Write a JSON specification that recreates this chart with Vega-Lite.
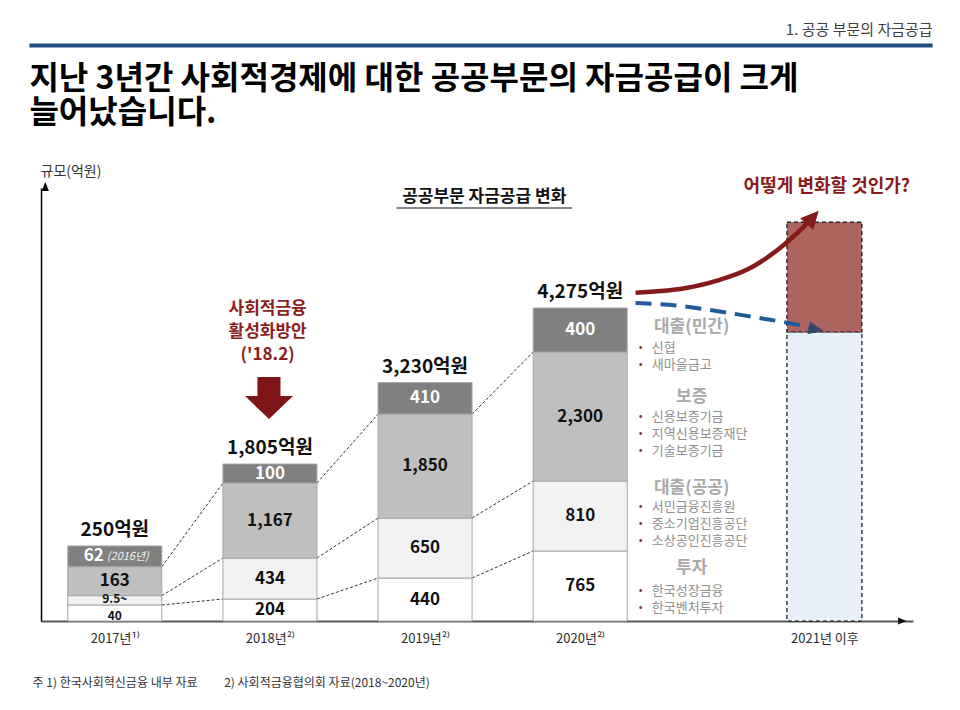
{
  "$schema": "https://vega.github.io/schema/vega-lite/v6.json",
  "width": 872,
  "height": 433,
  "autosize": {"type": "none"},
  "padding": {"left": 41, "top": 188, "right": 47, "bottom": 89},
  "background": "white",
  "config": {
    "view": {"stroke": null},
    "font": "Noto Sans CJK KR",
    "locale": {"number": {"decimal": ".", "thousands": ",", "grouping": [3], "currency": ["", "억원"]}}
  },
  "datasets": {
    "segments": [
      {"year": 2017, "seg": "투자", "rank": 1, "drawn": 219, "label": "40"},
      {"year": 2017, "seg": "대출(공공)", "rank": 2, "drawn": 127, "label": "9.5~"},
      {"year": 2017, "seg": "보증", "rank": 3, "drawn": 396, "label": "163"},
      {"year": 2017, "seg": "대출(민간)", "rank": 4, "drawn": 283, "label": "62", "note": "(2016년)"},
      {"year": 2018, "seg": "투자", "rank": 1, "drawn": 300, "label": "204"},
      {"year": 2018, "seg": "대출(공공)", "rank": 2, "drawn": 560, "label": "434"},
      {"year": 2018, "seg": "보증", "rank": 3, "drawn": 1024, "label": "1,167"},
      {"year": 2018, "seg": "대출(민간)", "rank": 4, "drawn": 260, "label": "100"},
      {"year": 2019, "seg": "투자", "rank": 1, "drawn": 587, "label": "440"},
      {"year": 2019, "seg": "대출(공공)", "rank": 2, "drawn": 819, "label": "650"},
      {"year": 2019, "seg": "보증", "rank": 3, "drawn": 1420, "label": "1,850"},
      {"year": 2019, "seg": "대출(민간)", "rank": 4, "drawn": 430, "label": "410"},
      {"year": 2020, "seg": "투자", "rank": 1, "drawn": 956, "label": "765"},
      {"year": 2020, "seg": "대출(공공)", "rank": 2, "drawn": 956, "label": "810"},
      {"year": 2020, "seg": "보증", "rank": 3, "drawn": 1762, "label": "2,300"},
      {"year": 2020, "seg": "대출(민간)", "rank": 4, "drawn": 601, "label": "400"}
    ],
    "totals": [
      {"year": 2017, "total": 250},
      {"year": 2018, "total": 1805},
      {"year": 2019, "total": 3230},
      {"year": 2020, "total": 4275}
    ],
    "outlook": [
      {"year": 2021, "seg": "전망(기존)", "rank": 1, "drawn": 3947},
      {"year": 2021, "seg": "전망(확대)", "rank": 2, "drawn": 1502}
    ],
    "scenarios": [
      {"scenario": "확대", "year": 2020.2266, "value": 4484},
      {"scenario": "확대", "year": 2020.4272, "value": 4544},
      {"scenario": "확대", "year": 2020.5607, "value": 4648},
      {"scenario": "확대", "year": 2020.6944, "value": 4817},
      {"scenario": "확대", "year": 2020.8283, "value": 5122},
      {"scenario": "확대", "year": 2020.8949, "value": 5317},
      {"scenario": "확대", "year": 2020.9486, "value": 5500},
      {"scenario": "축소", "year": 2020.2266, "value": 4343},
      {"scenario": "축소", "year": 2020.4123, "value": 4302},
      {"scenario": "축소", "year": 2020.5326, "value": 4248},
      {"scenario": "축소", "year": 2020.7332, "value": 4138},
      {"scenario": "축소", "year": 2020.8535, "value": 4070},
      {"scenario": "축소", "year": 2020.9619, "value": 3988}
    ],
    "channels": [
      {"seg": "대출(민간)", "items": ["신협", "새마을금고"]},
      {"seg": "보증", "items": ["신용보증기금", "지역신용보증재단", "기술보증기금"]},
      {"seg": "대출(공공)", "items": ["서민금융진흥원", "중소기업진흥공단", "소상공인진흥공단"]},
      {"seg": "투자", "items": ["한국성장금융", "한국벤처투자"]}
    ]
  },
  "layer": [
    {
      "data": {"name": "segments"},
      "transform": [
        {"stack": "drawn", "groupby": ["year"], "sort": [{"field": "rank", "order": "ascending"}], "as": ["y0", "y1"]},
        {"filter": "datum.rank <= 3"},
        {"window": [{"op": "lead", "field": "y1", "as": "y1n"}, {"op": "lead", "field": "year", "as": "yearn"}], "groupby": ["seg"], "sort": [{"field": "year", "order": "ascending"}]},
        {"filter": "datum.yearn != null"}
      ],
      "mark": {"type": "rule", "strokeDash": [3, 2], "strokeWidth": 1, "color": "#333333", "xOffset": 47, "x2Offset": -47},
      "encoding": {
        "x": {"field": "year", "type": "quantitative"},
        "x2": {"field": "yearn"},
        "y": {"field": "y1", "type": "quantitative"},
        "y2": {"field": "y1n"}
      }
    },
    {
      "data": {"name": "segments"},
      "mark": {"type": "bar", "width": 94, "stroke": "#a6a6a6", "strokeWidth": 1},
      "encoding": {
        "x": {
          "field": "year", "type": "quantitative",
          "scale": {"domain": [2016.552, 2020, 2021.335], "range": [0, 539.2, 872], "nice": false, "zero": false},
          "axis": {
            "values": [2017, 2018, 2019, 2020, 2021],
            "labelExpr": "datum.value == 2021 ? '2021년 이후' : datum.value + '년' + (datum.value == 2017 ? '¹⁾' : '²⁾')",
            "ticks": false, "tickSize": 0, "grid": false,
            "domainColor": "#595959", "domainWidth": 2,
            "labelFontSize": 13, "labelColor": "#2b2b2b", "labelPadding": 17, "labelBaseline": "middle",
            "labelFlush": false, "labelOverlap": false, "labelBound": false,
            "title": "주 1) 한국사회혁신금융 내부 자료\u2003\u2003 2) 사회적금융협의회 자료(2018~2020년)",
            "titleX": -9, "titleY": 61, "titleAlign": "left", "titleBaseline": "middle",
            "titleFontSize": 12, "titleFontWeight": "normal", "titleColor": "#333333"
          }
        },
        "y": {
          "field": "drawn", "type": "quantitative", "stack": "zero",
          "scale": {"domain": [0, 5914], "nice": false, "zero": false},
          "axis": {
            "domain": true, "domainColor": "#000000", "domainWidth": 1.5,
            "ticks": false, "labels": false, "grid": false,
            "title": "규모(억원)", "titleAngle": 0, "titleAlign": "left", "titleBaseline": "middle",
            "titleX": -1, "titleY": -17, "titleFontSize": 14, "titleFontWeight": "normal", "titleColor": "#333333"
          }
        },
        "color": {
          "field": "seg", "type": "nominal",
          "scale": {
            "domain": ["투자", "대출(공공)", "보증", "대출(민간)", "전망(기존)", "전망(확대)"],
            "range": ["#ffffff", "#f2f2f2", "#bfbfbf", "#808080", "#e9f0f9", "#ad635e"]
          },
          "legend": null
        },
        "order": {"field": "rank", "type": "quantitative", "sort": "ascending"}
      }
    },
    {
      "data": {"name": "outlook"},
      "mark": {"type": "bar", "width": 75, "stroke": "#111111", "strokeWidth": 1.2, "strokeDash": [4, 3]},
      "encoding": {
        "x": {"field": "year", "type": "quantitative"},
        "y": {"field": "drawn", "type": "quantitative", "stack": "zero"},
        "color": {"field": "seg", "type": "nominal", "legend": null},
        "order": {"field": "rank", "type": "quantitative", "sort": "ascending"}
      }
    },
    {
      "data": {"name": "segments"},
      "transform": [
        {"stack": "drawn", "groupby": ["year"], "sort": [{"field": "rank", "order": "ascending"}], "as": ["y0", "y1"]},
        {"fold": ["y0", "y1"], "as": ["edge", "pos"]},
        {"aggregate": [{"op": "mean", "field": "pos", "as": "mid"}], "groupby": ["year", "seg", "label", "note", "rank"]}
      ],
      "layer": [
        {
          "transform": [{"filter": "!datum.note && !(datum.year === 2017 && datum.rank <= 2)"}],
          "mark": {"type": "text", "fontSize": 17, "fontWeight": "bold", "align": "center", "baseline": "middle"},
          "encoding": {
            "x": {"field": "year", "type": "quantitative"},
            "y": {"field": "mid", "type": "quantitative"},
            "text": {"field": "label"},
            "color": {"condition": {"test": "datum.seg === '대출(민간)'", "value": "#ffffff"}, "value": "#111111"}
          }
        },
        {
          "transform": [{"filter": "datum.year === 2017 && datum.rank === 2"}],
          "mark": {"type": "text", "fontSize": 12, "fontWeight": "bold", "align": "center", "baseline": "middle", "dy": -1, "color": "#111111"},
          "encoding": {
            "x": {"field": "year", "type": "quantitative"},
            "y": {"field": "mid", "type": "quantitative"},
            "text": {"field": "label"}
          }
        },
        {
          "transform": [{"filter": "datum.year === 2017 && datum.rank === 1"}],
          "mark": {"type": "text", "fontSize": 12, "fontWeight": "bold", "align": "center", "baseline": "middle", "dy": 3, "color": "#111111"},
          "encoding": {
            "x": {"field": "year", "type": "quantitative"},
            "y": {"field": "mid", "type": "quantitative"},
            "text": {"field": "label"}
          }
        },
        {
          "transform": [{"filter": "datum.note"}],
          "mark": {"type": "text", "fontSize": 17, "fontWeight": "bold", "align": "center", "baseline": "middle", "color": "#ffffff", "dx": -21},
          "encoding": {
            "x": {"field": "year", "type": "quantitative"},
            "y": {"field": "mid", "type": "quantitative"},
            "text": {"field": "label"}
          }
        },
        {
          "transform": [{"filter": "datum.note"}],
          "mark": {"type": "text", "fontSize": 11, "fontStyle": "italic", "align": "center", "baseline": "middle", "color": "#f0f0f0", "dx": 13, "dy": 1},
          "encoding": {
            "x": {"field": "year", "type": "quantitative"},
            "y": {"field": "mid", "type": "quantitative"},
            "text": {"field": "note"}
          }
        }
      ]
    },
    {
      "data": {"name": "segments"},
      "transform": [
        {"aggregate": [{"op": "sum", "field": "drawn", "as": "top"}], "groupby": ["year"]},
        {"lookup": "year", "from": {"data": {"name": "totals"}, "key": "year", "fields": ["total"]}}
      ],
      "mark": {"type": "text", "fontSize": 19, "fontWeight": "bold", "align": "center", "baseline": "middle", "dy": -16, "color": "#111111"},
      "encoding": {
        "x": {"field": "year", "type": "quantitative"},
        "y": {"field": "top", "type": "quantitative"},
        "text": {"field": "total", "type": "quantitative", "format": "$,"}
      }
    },
    {
      "data": {"name": "scenarios"},
      "transform": [{"filter": "datum.scenario === '확대'"}],
      "mark": {"type": "line", "interpolate": "monotone", "strokeWidth": 4.5, "color": "#851a1b"},
      "encoding": {
        "x": {"field": "year", "type": "quantitative"},
        "y": {"field": "value", "type": "quantitative"}
      }
    },
    {
      "data": {"name": "scenarios"},
      "transform": [
        {"filter": "datum.scenario === '확대'"},
        {"window": [{"op": "row_number", "as": "rn"}], "sort": [{"field": "year", "order": "descending"}]},
        {"filter": "datum.rn === 1"}
      ],
      "mark": {"type": "point", "shape": "M0,-1L0.85,0.75L-0.85,0.75Z", "filled": true, "size": 420, "angle": 42, "color": "#851a1b", "opacity": 1},
      "encoding": {
        "x": {"field": "year", "type": "quantitative"},
        "y": {"field": "value", "type": "quantitative"}
      }
    },
    {
      "data": {"name": "scenarios"},
      "transform": [{"filter": "datum.scenario === '축소'"}],
      "mark": {"type": "line", "interpolate": "monotone", "strokeWidth": 4, "strokeDash": [16, 9], "color": "#1f5c99"},
      "encoding": {
        "x": {"field": "year", "type": "quantitative"},
        "y": {"field": "value", "type": "quantitative"}
      }
    },
    {
      "data": {"name": "scenarios"},
      "transform": [
        {"filter": "datum.scenario === '축소'"},
        {"window": [{"op": "row_number", "as": "rn"}], "sort": [{"field": "year", "order": "descending"}]},
        {"filter": "datum.rn === 1"}
      ],
      "mark": {"type": "point", "shape": "M0,-1L0.75,0.75L-0.75,0.75Z", "filled": true, "size": 300, "angle": 101, "color": "#2e3f6a", "opacity": 0.85},
      "encoding": {
        "x": {"field": "year", "type": "quantitative"},
        "y": {"field": "value", "type": "quantitative"}
      }
    },
    {
      "data": {"name": "channels"},
      "transform": [{"filter": "datum.seg === '대출(민간)'"}],
      "mark": {"type": "text", "fontSize": 17, "fontWeight": "bold", "color": "#a9a9a9", "align": "center", "baseline": "middle"},
      "encoding": {"x": {"datum": 2020.4565}, "y": {"datum": 4009}, "text": {"field": "seg"}}
    },
    {
      "data": {"name": "channels"},
      "transform": [{"filter": "datum.seg === '대출(민간)'"}],
      "mark": {"type": "text", "fontSize": 13, "color": "#8f8f8f", "align": "left", "baseline": "middle", "lineHeight": 17.3},
      "encoding": {"x": {"datum": 2020.2932}, "y": {"datum": 3729}, "text": {"field": "items"}}
    },
    {
      "data": {"values": [{}]},
      "mark": {"type": "text", "text": ["•", "•"], "fontSize": 11, "color": "#7b3b3b", "align": "center", "baseline": "middle", "lineHeight": 17.3},
      "encoding": {"x": {"datum": 2020.2479}, "y": {"datum": 3729}}
    },
    {
      "data": {"name": "channels"},
      "transform": [{"filter": "datum.seg === '보증'"}],
      "mark": {"type": "text", "fontSize": 17, "fontWeight": "bold", "color": "#a9a9a9", "align": "center", "baseline": "middle"},
      "encoding": {"x": {"datum": 2020.4565}, "y": {"datum": 3059}, "text": {"field": "seg"}}
    },
    {
      "data": {"name": "channels"},
      "transform": [{"filter": "datum.seg === '보증'"}],
      "mark": {"type": "text", "fontSize": 13, "color": "#8f8f8f", "align": "left", "baseline": "middle", "lineHeight": 17.3},
      "encoding": {"x": {"datum": 2020.2932}, "y": {"datum": 2790}, "text": {"field": "items"}}
    },
    {
      "data": {"values": [{}]},
      "mark": {"type": "text", "text": ["•", "•", "•"], "fontSize": 11, "color": "#7b3b3b", "align": "center", "baseline": "middle", "lineHeight": 17.3},
      "encoding": {"x": {"datum": 2020.2479}, "y": {"datum": 2790}}
    },
    {
      "data": {"name": "channels"},
      "transform": [{"filter": "datum.seg === '대출(공공)'"}],
      "mark": {"type": "text", "fontSize": 17, "fontWeight": "bold", "color": "#a9a9a9", "align": "center", "baseline": "middle"},
      "encoding": {"x": {"datum": 2020.4565}, "y": {"datum": 1823}, "text": {"field": "seg"}}
    },
    {
      "data": {"name": "channels"},
      "transform": [{"filter": "datum.seg === '대출(공공)'"}],
      "mark": {"type": "text", "fontSize": 13, "color": "#8f8f8f", "align": "left", "baseline": "middle", "lineHeight": 17.3},
      "encoding": {"x": {"datum": 2020.2932}, "y": {"datum": 1561}, "text": {"field": "items"}}
    },
    {
      "data": {"values": [{}]},
      "mark": {"type": "text", "text": ["•", "•", "•"], "fontSize": 11, "color": "#7b3b3b", "align": "center", "baseline": "middle", "lineHeight": 17.3},
      "encoding": {"x": {"datum": 2020.2479}, "y": {"datum": 1561}}
    },
    {
      "data": {"name": "channels"},
      "transform": [{"filter": "datum.seg === '투자'"}],
      "mark": {"type": "text", "fontSize": 17, "fontWeight": "bold", "color": "#a9a9a9", "align": "center", "baseline": "middle"},
      "encoding": {"x": {"datum": 2020.4565}, "y": {"datum": 724}, "text": {"field": "seg"}}
    },
    {
      "data": {"name": "channels"},
      "transform": [{"filter": "datum.seg === '투자'"}],
      "mark": {"type": "text", "fontSize": 13, "color": "#8f8f8f", "align": "left", "baseline": "middle", "lineHeight": 17.3},
      "encoding": {"x": {"datum": 2020.2932}, "y": {"datum": 414}, "text": {"field": "items"}}
    },
    {
      "data": {"values": [{}]},
      "mark": {"type": "text", "text": ["•", "•"], "fontSize": 11, "color": "#7b3b3b", "align": "center", "baseline": "middle", "lineHeight": 17.3},
      "encoding": {"x": {"datum": 2020.2479}, "y": {"datum": 414}}
    },
    {
      "data": {"values": [{}]},
      "mark": {"type": "text", "text": ["사회적금융", "활성화방안", "('18.2)"], "fontSize": 17, "fontWeight": "bold", "color": "#8b1e1e", "align": "center", "baseline": "middle", "lineHeight": 23},
      "encoding": {"x": {"datum": 2017.985}, "y": {"datum": 4261}}
    },
    {
      "data": {"values": [{}]},
      "mark": {"type": "point", "shape": "M-0.48,-0.875L0.48,-0.875L0.48,-0.08L1,-0.08L0,0.875L-1,-0.08L-0.48,-0.08Z", "filled": true, "size": 2304, "color": "#7f1416", "opacity": 1},
      "encoding": {"x": {"datum": 2017.9938}, "y": {"datum": 3046}}
    },
    {
      "data": {"values": [{}]},
      "mark": {"type": "text", "text": "어떻게 변화할 것인가?", "fontSize": 18, "fontWeight": "bold", "color": "#8b1a1a", "align": "center", "baseline": "middle"},
      "encoding": {"x": {"datum": 2021.01}, "y": {"datum": 5928}}
    },
    {
      "data": {"values": [{}]},
      "mark": {"type": "text", "text": "공공부문 자금공급 변화", "fontSize": 17, "fontWeight": "bold", "color": "#111111", "align": "center", "baseline": "middle"},
      "encoding": {"x": {"datum": 2019.3813}, "y": {"datum": 5791}}
    },
    {
      "data": {"values": [{}]},
      "mark": {"type": "rule", "strokeWidth": 1.2, "color": "#111111"},
      "encoding": {"x": {"datum": 2018.8155}, "x2": {"datum": 2019.9472}, "y": {"datum": 5641}}
    },
    {
      "data": {"values": [{}]},
      "mark": {"type": "text", "text": ["지난 3년간 사회적경제에 대한 공공부문의 자금공급이 크게", "늘어났습니다."], "fontSize": 32, "fontWeight": "bold", "color": "#000000", "align": "left", "baseline": "middle", "lineHeight": 34},
      "encoding": {"x": {"datum": 2016.4497}, "y": {"datum": 7409}}
    },
    {
      "data": {"values": [{}]},
      "mark": {"type": "text", "text": "1. 공공 부문의 자금공급", "fontSize": 15, "color": "#404040", "align": "right", "baseline": "middle"},
      "encoding": {"x": {"datum": 2021.4432}, "y": {"datum": 8072}}
    },
    {
      "data": {"values": [{}]},
      "mark": {"type": "rule", "strokeWidth": 4, "color": "#1f4e79"},
      "encoding": {"x": {"datum": 2016.4497}, "x2": {"datum": 2021.4432}, "y": {"datum": 7860}}
    },
    {
      "data": {"values": [{}]},
      "mark": {"type": "point", "shape": "M0,-1L0.8,1L-0.8,1Z", "filled": true, "size": 81, "color": "#000000", "opacity": 1},
      "encoding": {"x": {"datum": 2016.552}, "y": {"datum": 5934}}
    },
    {
      "data": {"values": [{}]},
      "mark": {"type": "point", "shape": "M0,-1L0.8,1L-0.8,1Z", "filled": true, "size": 72, "angle": 90, "color": "#111111", "opacity": 1},
      "encoding": {"x": {"datum": 2021.3189}, "y": {"datum": 0}}
    }
  ]
}
